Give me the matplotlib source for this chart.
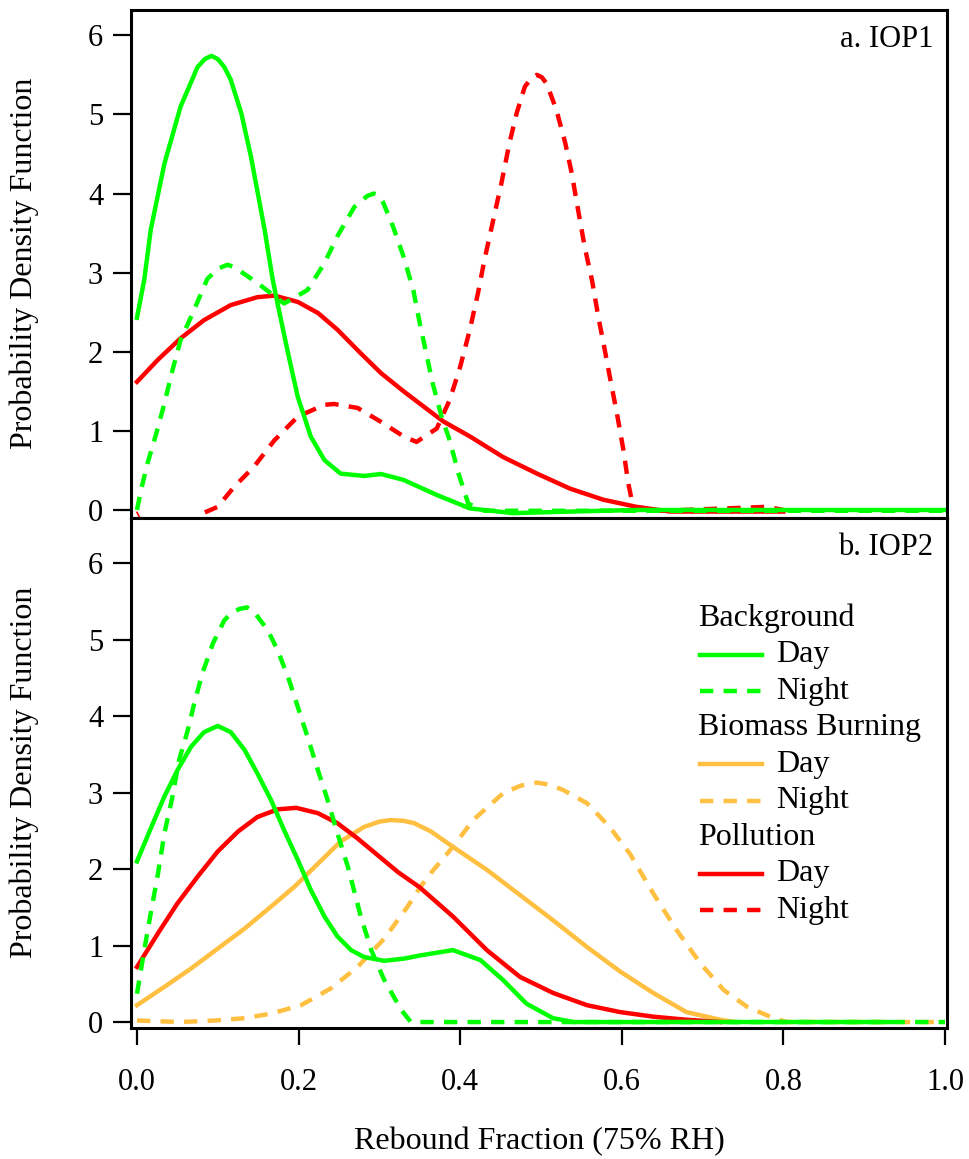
import numpy as np
import matplotlib
matplotlib.use("Agg")
import matplotlib.pyplot as plt

# cores das fontes de aerossol
GREEN = '#00FF00'
RED = '#FF0000'
ORANGE = '#FFBF40'

# ---------------- a. IOP1 ----------------
iop1_bg_day_x = [0.0, 0.009, 0.017, 0.034, 0.054, 0.075, 0.084, 0.092, 0.1, 0.108, 0.116, 0.129,
                 0.141, 0.158, 0.168, 0.174, 0.187, 0.199, 0.215, 0.232, 0.252, 0.281, 0.302, 0.33,
                 0.371, 0.412, 0.465, 0.536, 0.618, 1.0]
iop1_bg_day_y = [2.43, 2.91, 3.54, 4.38, 5.10, 5.60, 5.70, 5.74, 5.70, 5.60, 5.44, 5.02,
                 4.47, 3.54, 2.91, 2.61, 1.98, 1.43, 0.93, 0.63, 0.46, 0.43, 0.455, 0.38,
                 0.19, 0.02, -0.04, -0.02, 0.0, 0.0]

iop1_bg_night_x = [0.0, 0.005, 0.013, 0.024, 0.034, 0.044, 0.054, 0.069, 0.087, 0.1, 0.112, 0.12,
                   0.129, 0.149, 0.182, 0.211, 0.232, 0.248, 0.269, 0.285, 0.293, 0.3, 0.305, 0.317,
                   0.33, 0.342, 0.35, 0.358, 0.366, 0.377, 0.387, 0.398, 0.41, 0.43, 1.0]
iop1_bg_night_y = [0.0, 0.25, 0.59, 0.97, 1.35, 1.77, 2.15, 2.49, 2.92, 3.05, 3.10, 3.07,
                   3.01, 2.87, 2.61, 2.78, 3.12, 3.46, 3.83, 3.97, 4.00, 3.97, 3.88, 3.58,
                   3.20, 2.78, 2.36, 1.98, 1.60, 1.18, 0.88, 0.46, 0.08, -0.01, -0.01]

iop1_pol_day_x = [0.0, 0.026, 0.054, 0.083, 0.116, 0.149, 0.17, 0.199, 0.224, 0.248, 0.277, 0.302,
                  0.33, 0.379, 0.412, 0.453, 0.495, 0.536, 0.577, 0.618, 0.66, 0.8]
iop1_pol_day_y = [1.62, 1.90, 2.17, 2.40, 2.59, 2.69, 2.71, 2.63, 2.49, 2.28, 1.98, 1.73,
                  1.50, 1.12, 0.93, 0.67, 0.46, 0.27, 0.13, 0.04, -0.02, -0.02]

iop1_pol_night_x = [0.084, 0.1, 0.12, 0.145, 0.17, 0.199, 0.232, 0.244, 0.273, 0.301,
                    0.33, 0.346, 0.371, 0.387, 0.4, 0.412, 0.422, 0.43, 0.441, 0.451, 0.461, 0.47,
                    0.48, 0.488, 0.495, 0.501, 0.507, 0.519, 0.53, 0.538, 0.546, 0.554, 0.563, 0.571,
                    0.579, 0.586, 0.594, 0.602, 0.608, 0.614, 0.65, 0.78, 0.8]
iop1_pol_night_y = [-0.03, 0.04, 0.29, 0.55, 0.88, 1.18, 1.33, 1.34, 1.29, 1.12,
                    0.93, 0.86, 1.03, 1.39, 1.81, 2.28, 2.74, 3.16, 3.67, 4.13, 4.64, 5.02,
                    5.35, 5.46, 5.50, 5.47, 5.39, 5.06, 4.64, 4.26, 3.79, 3.33, 2.91, 2.44,
                    2.02, 1.64, 1.22, 0.76, 0.34, 0.04, -0.01, 0.04, 0.0]
# pequeno trecho em x=0 (abaixo do zero)
iop1_pol_night_stub_x = [0.0, 0.003]
iop1_pol_night_stub_y = [-0.03, -0.09]

# ---------------- b. IOP2 ----------------
iop2_bg_day_x = [0.0, 0.017, 0.034, 0.05, 0.067, 0.083, 0.1, 0.116, 0.133, 0.149, 0.166, 0.182,
                 0.199, 0.215, 0.232, 0.248, 0.265, 0.281, 0.306, 0.331, 0.35, 0.391, 0.425, 0.453,
                 0.482, 0.515, 0.54, 0.932]
iop2_bg_day_y = [2.10, 2.53, 2.95, 3.29, 3.60, 3.79, 3.87, 3.79, 3.56, 3.25, 2.90, 2.51,
                 2.12, 1.73, 1.38, 1.12, 0.94, 0.85, 0.80, 0.83, 0.87, 0.94, 0.81, 0.55,
                 0.24, 0.05, 0.0, 0.0]

iop2_bg_night_x = [0.0, 0.009, 0.017, 0.026, 0.034, 0.044, 0.052, 0.063, 0.071, 0.081, 0.094, 0.108,
                   0.117, 0.127, 0.136, 0.145, 0.162, 0.174, 0.187, 0.199, 0.211, 0.224, 0.236, 0.248,
                   0.261, 0.277, 0.29, 0.306, 0.327, 0.339, 1.0]
iop2_bg_night_y = [0.37, 0.94, 1.42, 1.94, 2.47, 2.95, 3.42, 3.82, 4.17, 4.56, 4.95, 5.25,
                   5.35, 5.40, 5.42, 5.36, 5.12, 4.86, 4.51, 4.12, 3.73, 3.29, 2.90, 2.47,
                   2.03, 1.38, 0.94, 0.55, 0.16, 0.0, 0.0]

iop2_bb_day_x = [0.0, 0.034, 0.067, 0.1, 0.133, 0.166, 0.195, 0.224, 0.252, 0.281, 0.3, 0.314,
                 0.33, 0.343, 0.364, 0.391, 0.433, 0.474, 0.515, 0.557, 0.598, 0.639, 0.68, 0.722,
                 0.74]
iop2_bb_day_y = [0.22, 0.46, 0.70, 0.96, 1.22, 1.51, 1.77, 2.07, 2.36, 2.55, 2.62, 2.64,
                 2.63, 2.60, 2.49, 2.29, 1.99, 1.66, 1.33, 0.98, 0.66, 0.38, 0.13, 0.03,
                 0.0]

iop2_bb_night_x = [0.0, 0.054, 0.096, 0.133, 0.166, 0.203, 0.24, 0.273, 0.306, 0.335, 0.351, 0.367,
                   0.391, 0.416, 0.453, 0.475, 0.495, 0.512, 0.528, 0.557, 0.585, 0.61, 0.639, 0.668,
                   0.697, 0.726, 0.755, 0.788, 0.804, 1.0]
iop2_bb_night_y = [0.02, 0.0, 0.02, 0.05, 0.11, 0.22, 0.44, 0.72, 1.09, 1.51, 1.77, 1.99,
                   2.29, 2.64, 2.99, 3.09, 3.13, 3.10, 3.03, 2.86, 2.55, 2.20, 1.68, 1.20,
                   0.77, 0.42, 0.20, 0.05, 0.0, 0.0]

iop2_pol_day_x = [0.0, 0.026, 0.05, 0.075, 0.1, 0.125, 0.149, 0.174, 0.197, 0.224, 0.248, 0.273,
                  0.298, 0.323, 0.35, 0.391, 0.433, 0.474, 0.515, 0.557, 0.598, 0.639, 0.68, 0.722]
iop2_pol_day_y = [0.72, 1.16, 1.55, 1.90, 2.23, 2.49, 2.68, 2.78, 2.80, 2.73, 2.60, 2.40,
                  2.18, 1.96, 1.76, 1.38, 0.94, 0.59, 0.38, 0.22, 0.13, 0.07, 0.03, 0.0]

xticks = [0.0, 0.2, 0.4, 0.6, 0.8, 1.0]
yticks = [0, 1, 2, 3, 4, 5, 6]
panel_labels = ['a. IOP1', 'b. IOP2']
legend_groups = ['Background', 'Biomass Burning', 'Pollution']
legend_colors = [GREEN, ORANGE, RED]
legend_kinds = ['Day', 'Night']

plt.rcParams['font.family'] = ['Liberation Serif', 'DejaVu Serif']

LW = 3.2
DASH = (0, (3.0, 2.3))
kw = dict(lw=LW, solid_joinstyle='round', dash_joinstyle='round')

fig = plt.figure(figsize=(9.69, 11.59), dpi=100)
W, H = 969.0, 1159.0
ax1 = fig.add_axes([131 / W, 1 - 517.5 / H, 816 / W, 507.5 / H])
ax2 = fig.add_axes([131 / W, 1 - 1028 / H, 816 / W, 510.5 / H])

# painel superior
ax1.plot(iop1_pol_night_stub_x, iop1_pol_night_stub_y, color=RED, lw=1.2)
ax1.plot(iop1_pol_night_x, iop1_pol_night_y, color=RED, linestyle=DASH, **kw)
ax1.plot(iop1_pol_day_x, iop1_pol_day_y, color=RED, **kw)
ax1.plot(iop1_bg_night_x, iop1_bg_night_y, color=GREEN, linestyle=DASH, **kw)
ax1.plot(iop1_bg_day_x, iop1_bg_day_y, color=GREEN, **kw)

# painel inferior
ax2.plot(iop2_bb_night_x, iop2_bb_night_y, color=ORANGE, linestyle=DASH, **kw)
ax2.plot(iop2_bb_day_x, iop2_bb_day_y, color=ORANGE, **kw)
ax2.plot(iop2_pol_day_x, iop2_pol_day_y, color=RED, **kw)
ax2.plot(iop2_bg_night_x, iop2_bg_night_y, color=GREEN, linestyle=DASH, **kw)
ax2.plot(iop2_bg_day_x, iop2_bg_day_y, color=GREEN, **kw)

ax1.set_ylim(-0.095, 6.32)
ax2.set_ylim(-0.078, 6.595)

for ax, lab in zip([ax1, ax2], panel_labels):
    ax.set_xlim(-0.0074, 1.0025)
    ax.set_yticks(yticks)
    ax.set_xticks(xticks)
    for s in ax.spines.values():
        s.set_linewidth(2.2)
    ax.tick_params(axis='y', direction='out', length=13, width=1.6, pad=7, labelsize=22,
                   left=True, right=False)
    ax.set_ylabel('Probability Density Function', fontsize=23)
    ax.yaxis.set_label_coords(-0.113, 0.5)
    ax.text(0.983, 0.941, lab, transform=ax.transAxes, ha='right', va='center', fontsize=22)

ax1.tick_params(axis='x', bottom=False, top=False, labelbottom=False)
ax2.tick_params(axis='x', direction='out', length=12.5, width=1.6, pad=16, labelsize=22,
                top=False)
ax2.set_xticklabels(['%.1f' % v for v in xticks])
ax2.set_xlabel('Rebound Fraction (75% RH)', fontsize=23, labelpad=22)

# legenda feita a mao (estilo Igor)
row0 = 0.803
step = 0.0715
row = 0
for grp, col in zip(legend_groups, legend_colors):
    ax2.text(0.695, row0 - row * step, grp, transform=ax2.transAxes, ha='left',
             va='center', fontsize=23)
    row += 1
    for kind in legend_kinds:
        yy = row0 - row * step
        ls = '-' if kind == 'Day' else DASH
        ax2.plot([0.697, 0.773], [yy, yy], transform=ax2.transAxes, color=col, lw=LW,
                 linestyle=ls, clip_on=False)
        ax2.text(0.790, yy, kind, transform=ax2.transAxes, ha='left', va='center',
                 fontsize=23)
        row += 1

fig.savefig('out.png', dpi=100)
